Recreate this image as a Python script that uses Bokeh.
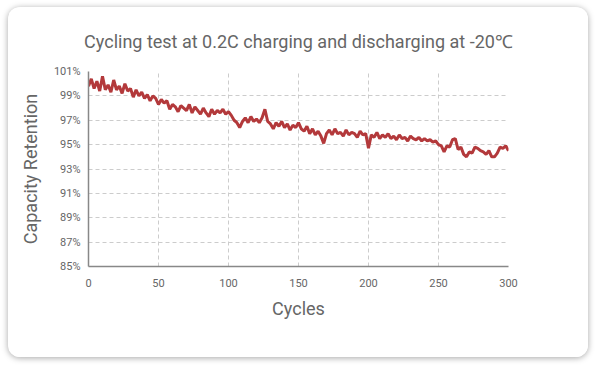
from bokeh.plotting import figure
from bokeh.models import FixedTicker, PrintfTickFormatter, ColumnDataSource
from bokeh.embed import file_html
from bokeh.resources import INLINE

title_text = "Cycling test at 0.2C charging and discharging at -20℃"
x_label = "Cycles"
y_label = "Capacity Retention"

cycles = list(range(0, 301, 2))
retention = [
    99.8, 100.4, 99.6, 100.2, 99.4, 100.6, 99.5, 99.9, 99.3, 100.3, 99.5,
    99.8, 99.2, 100.0, 99.4, 99.6, 98.9, 99.5, 99.0, 99.3, 98.8,
    99.1, 98.6, 99.0, 98.8, 98.3, 98.7, 98.4, 98.6, 97.9, 98.3,
    98.1, 97.7, 98.2, 98.0, 97.8, 98.3, 97.6, 98.1, 97.8, 97.5,
    98.0, 97.6, 97.3, 97.9, 97.5, 97.8, 97.6, 97.9, 97.5, 97.7,
    97.4, 97.0, 96.8, 96.4, 96.9, 97.2, 96.8, 97.3, 96.9, 97.1,
    96.8, 97.2, 97.9, 96.9, 96.7, 96.3, 96.8, 96.5, 96.9, 96.4,
    96.7, 96.2, 96.6, 96.4, 96.8, 96.3, 96.1, 96.5, 95.9, 96.3,
    95.8, 96.1, 95.7, 95.1, 95.9, 96.2, 95.8, 96.3, 95.9, 96.0,
    95.7, 96.2, 95.8, 96.0, 95.9, 95.6, 96.1, 95.8, 95.9, 94.7,
    95.8, 95.6, 96.0, 95.5, 95.8, 95.6, 95.9, 95.5, 95.7, 95.4,
    95.8, 95.5, 95.6, 95.3, 95.7, 95.5, 95.4, 95.6, 95.3, 95.5,
    95.3, 95.4, 95.2, 95.3, 95.0, 94.9, 94.4, 94.9, 94.8, 95.4,
    95.5, 94.6, 94.8, 94.2, 94.0, 94.4, 94.3, 94.8, 94.7, 94.5,
    94.4, 94.2, 94.5, 94.0, 94.0, 94.3, 94.8, 94.7, 94.9, 94.5,
]
x_ticks = [0, 50, 100, 150, 200, 250, 300]
y_ticks = [85, 87, 89, 91, 93, 95, 97, 99, 101]

src = ColumnDataSource(dict(x=cycles, y=retention))

p = figure(width=580, height=350, output_backend="svg", toolbar_location=None,
           x_range=(0, 300), y_range=(85, 101),
           min_border_left=80, min_border_right=80, min_border_top=64, min_border_bottom=91)
p.margin = (7, 8, 8, 8)
p.styles = {"border-radius": "12px", "box-shadow": "0 1px 6px rgba(0,0,0,0.35)", "overflow": "hidden"}
p.background_fill_color = "white"
p.border_fill_color = "white"
p.outline_line_color = None

p.title.text = title_text
p.title.align = "center"
p.title.text_font = "Roboto"
p.title.text_font_size = "18px"
p.title.text_font_style = "normal"
p.title.text_color = "#666666"
p.title.standoff = 40

p.line("x", "y", source=src, line_color="#b3393b", line_width=3)

for ax in (p.xaxis[0], p.yaxis[0]):
    ax.axis_line_color = "#888888"
    ax.axis_line_width = 1.5
    ax.major_tick_line_color = None
    ax.minor_tick_line_color = None
    ax.major_label_text_font = "Roboto"
    ax.major_label_text_font_size = "11px"
    ax.major_label_text_color = "#666666"
    ax.axis_label_text_font = "Roboto"
    ax.axis_label_text_font_size = "18px"
    ax.axis_label_text_font_style = "normal"
    ax.axis_label_text_color = "#666666"

p.xaxis.ticker = FixedTicker(ticks=x_ticks)
p.yaxis.ticker = FixedTicker(ticks=y_ticks)
p.yaxis.formatter = PrintfTickFormatter(format="%d%%")
p.xaxis.axis_label = x_label
p.yaxis.axis_label = y_label
p.xaxis.major_label_standoff = 6
p.yaxis.major_label_standoff = 2
p.xaxis.axis_label_standoff = 8
p.yaxis.axis_label_standoff = 10

for g in (p.xgrid[0], p.ygrid[0]):
    g.grid_line_color = "#cccccc"
    g.grid_line_dash = "4 3"
    g.grid_line_width = 1
p.xgrid.ticker = FixedTicker(ticks=x_ticks)
p.ygrid.ticker = FixedTicker(ticks=y_ticks)

open("out.html", "w").write(file_html(p, INLINE))
